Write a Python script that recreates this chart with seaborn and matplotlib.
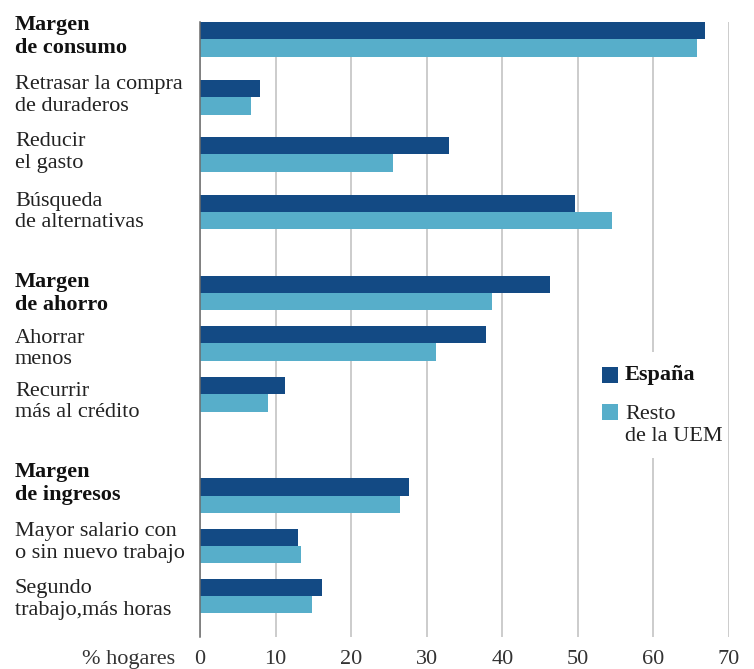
import matplotlib
matplotlib.use("Agg")
import matplotlib.pyplot as plt
import matplotlib.transforms as mtransforms
from matplotlib.patches import Rectangle
import seaborn as sns
import pandas as pd

# ---------------- data ----------------
categorias = [
    "Margen\nde consumo",
    "Retrasar la compra\nde duraderos",
    "Reducir\nel gasto",
    "Búsqueda\nde alternativas",
    "Margen\nde ahorro",
    "Ahorrar\nmenos",
    "Recurrir\nmás al crédito",
    "Margen\nde ingresos",
    "Mayor salario con\no sin nuevo trabajo",
    "Segundo\ntrabajo,más horas",
]
es_cabecera = [True, False, False, False, True, False, False, True, False, False]
espana = [66.8, 7.9, 32.9, 49.6, 46.3, 37.8, 11.3, 27.6, 13.0, 16.1]
resto_uem = [65.8, 6.7, 25.6, 54.5, 38.6, 31.2, 9.0, 26.4, 13.3, 14.8]
series = ["España", "Resto\nde la UEM"]
x_ticks = [0, 10, 20, 30, 40, 50, 60, 70]
x_label = "% hogares"

# ---------------- layout (pixels from top of a 754x669 canvas) ----------------
W, H = 754, 669
row_centers = [39.3, 97.3, 154.3, 212, 293, 343.3, 394.3, 495.7, 546, 596]
label_baselines = [30, 87.3, 144.3, 204, 286.7, 341, 394, 476.7, 534.3, 591.7]
LINE_STEP = 23.4
ax_left, ax_right, ax_top, ax_bottom = 200, 729, 22, 637

colores = {"España": "#134A84", "Resto\nde la UEM": "#57AECA"}
texto = "#222222"

df = pd.DataFrame({
    "pos": row_centers * 2,
    "valor": espana + resto_uem,
    "serie": [series[0]] * len(espana) + [series[1]] * len(resto_uem),
})

sns.set_style("white")
plt.rcParams["font.family"] = ["Liberation Serif", "DejaVu Serif"]
FS = 16

fig = plt.figure(figsize=(W / 100, H / 100), dpi=100)
ax = fig.add_axes([ax_left / W, 1 - ax_bottom / H,
                   (ax_right - ax_left) / W, (ax_bottom - ax_top) / H])

sns.barplot(data=df, x="valor", y="pos", hue="serie", hue_order=series,
            orient="y", native_scale=True, palette=colores, saturation=1,
            width=0.694, errorbar=None, linewidth=0, legend=False, ax=ax,
            zorder=3)

ax.set_xlim(0, 70)
ax.set_ylim(ax_bottom, ax_top)
ax.set_xticks(x_ticks)
ax.set_xticklabels([str(t) for t in x_ticks])
ax.set_yticks([])
ax.set_xlabel("")
ax.set_ylabel("")
ax.tick_params(axis="x", length=0, pad=9, labelsize=FS, labelcolor="#333333")
ax.xaxis.grid(True, color="#C4C4C4", linewidth=1.2, zorder=0)
ax.set_axisbelow(True)
for s in ["top", "right", "bottom"]:
    ax.spines[s].set_visible(False)
ax.spines["left"].set_color("#6B6B6B")
ax.spines["left"].set_linewidth(1.1)
ax.spines["left"].set_zorder(4)

# pixel transform for layout text
px = mtransforms.Affine2D().scale(1 / W, -1 / H).translate(0, 1) + fig.transFigure


def put_text(x, first_baseline, s, bold, **kw):
    n = s.count("\n")
    fig.text(x, first_baseline + n * LINE_STEP, s, transform=px, ha="left",
             va="baseline", fontsize=FS,
             color="#111111" if bold else texto,
             fontweight="bold" if bold else "normal", linespacing=1.2, **kw)


# category labels
for cat, bold, yb in zip(categorias, es_cabecera, label_baselines):
    put_text(15, yb, cat, bold)

# x axis caption
fig.text(175, 664, x_label, transform=px, ha="right", va="baseline",
         fontsize=FS, color="#333333")

# legend (manual, with white backing over gridline)
fig.patches.append(Rectangle((596, 352), 126, 106, transform=px,
                             facecolor="white", edgecolor="none", zorder=5))
legend_rows = [(367.3, 380, True), (404, 417.3, False)]
for serie, (ytop, ybase, bold) in zip(series, legend_rows):
    fig.patches.append(Rectangle((602.3, ytop), 15.7, 15.7, transform=px,
                                 facecolor=colores[serie], edgecolor="none",
                                 zorder=6))
    put_text(625, ybase, serie, bold, zorder=7)

fig.savefig("out.png", dpi=100)
